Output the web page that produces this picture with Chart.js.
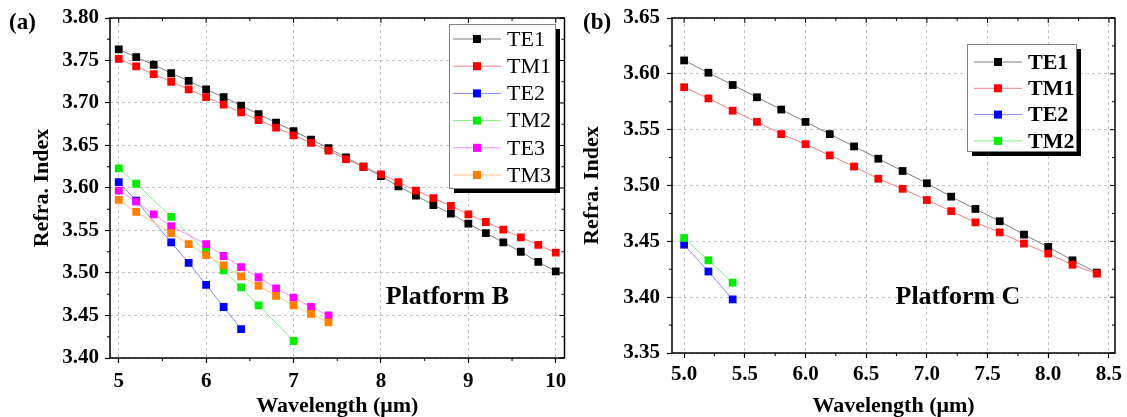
<!DOCTYPE html>
<html>
<head>
<meta charset="utf-8">
<script src="https://cdn.jsdelivr.net/npm/chart.js@4.4.0/dist/chart.umd.min.js"></script>
<style>
  body { margin: 0; background: #fff; }
  .panel { position: absolute; top: 0; height: 417px; }
  #panelB { left: 0; width: 570px; }
  #panelC { left: 570px; width: 557px; }
</style>
</head>
<body>
<div class="panel" id="panelB"><canvas id="chartB" width="570" height="417"></canvas></div>
<div class="panel" id="panelC"><canvas id="chartC" width="557" height="417"></canvas></div>
<script>
const FONT = "'Liberation Serif', 'Times New Roman', serif";

// ---- Platform B ----
const wlB = [5.0, 5.2, 5.4, 5.6, 5.8, 6.0, 6.2, 6.4, 6.6, 6.8, 7.0, 7.2, 7.4,
             7.6, 7.8, 8.0, 8.2, 8.4, 8.6, 8.8, 9.0, 9.2, 9.4, 9.6, 9.8, 10.0];
const te1B = [3.763, 3.754, 3.745, 3.735, 3.726, 3.716, 3.707, 3.697, 3.687, 3.677, 3.667, 3.657, 3.647,
              3.636, 3.625, 3.614, 3.602, 3.591, 3.580, 3.570, 3.558, 3.547, 3.536, 3.525, 3.513, 3.502];
const tm1B = [3.752, 3.743, 3.734, 3.725, 3.716, 3.707, 3.698, 3.689, 3.680, 3.671, 3.662, 3.653, 3.644,
              3.634, 3.625, 3.616, 3.607, 3.597, 3.588, 3.579, 3.569, 3.560, 3.551, 3.542, 3.533, 3.524];
const wlTe2B = [5.0, 5.2, 5.6, 5.8, 6.0, 6.2, 6.4];
const te2B = [3.607, 3.585, 3.536, 3.512, 3.486, 3.460, 3.434];
const wlTm2B = [5.0, 5.2, 5.6, 6.0, 6.2, 6.4, 6.6, 7.0];
const tm2B = [3.623, 3.605, 3.566, 3.525, 3.503, 3.483, 3.462, 3.420];
const wlTe3B = [5.0, 5.2, 5.4, 5.6, 6.0, 6.2, 6.4, 6.6, 6.8, 7.0, 7.2, 7.4];
const te3B = [3.597, 3.584, 3.569, 3.555, 3.534, 3.520, 3.507, 3.495, 3.482, 3.471, 3.460, 3.450];
const wlTm3B = [5.0, 5.2, 5.6, 5.8, 6.0, 6.2, 6.4, 6.6, 6.8, 7.0, 7.2, 7.4];
const tm3B = [3.586, 3.572, 3.547, 3.534, 3.521, 3.509, 3.496, 3.485, 3.473, 3.462, 3.452, 3.442];
const xTicksB = [5, 6, 7, 8, 9, 10];
const yTicksB = [3.40, 3.45, 3.50, 3.55, 3.60, 3.65, 3.70, 3.75, 3.80];

// ---- Platform C ----
const wlC = [5.0, 5.2, 5.4, 5.6, 5.8, 6.0, 6.2, 6.4, 6.6, 6.8, 7.0, 7.2, 7.4, 7.6, 7.8, 8.0, 8.2, 8.4];
const te1C = [3.612, 3.601, 3.590, 3.579, 3.568, 3.557, 3.546, 3.535, 3.524,
              3.513, 3.502, 3.490, 3.479, 3.468, 3.456, 3.445, 3.433, 3.422];
const tm1C = [3.588, 3.578, 3.567, 3.557, 3.546, 3.537, 3.527, 3.517, 3.506,
              3.497, 3.487, 3.477, 3.467, 3.458, 3.448, 3.439, 3.429, 3.421];
const wlLowC = [5.0, 5.2, 5.4];
const te2C = [3.447, 3.423, 3.398];
const tm2C = [3.453, 3.433, 3.413];
const xTicksC = [5.0, 5.5, 6.0, 6.5, 7.0, 7.5, 8.0, 8.5];
const yTicksC = [3.35, 3.40, 3.45, 3.50, 3.55, 3.60, 3.65];

const pts = (xs, ys) => xs.map((x, i) => ({ x: x, y: ys[i] }));

function series(label, xs, ys, line, mark, order) {
  return {
    label: label,
    data: pts(xs, ys),
    showLine: true,
    borderColor: line,
    borderWidth: 1,
    backgroundColor: mark,
    pointBackgroundColor: mark,
    pointBorderWidth: 0,
    pointStyle: 'rect',
    pointRadius: 5.5,
    pointHoverRadius: 5.5,
    order: order
  };
}

// frame + minor/mirrored ticks
const framePlugin = {
  id: 'frame',
  afterDatasetsDraw(chart) {
    const { ctx, chartArea: a, scales: { x, y } } = chart;
    const xs = x.ticks.map(t => t.value);
    const ys = y.ticks.map(t => t.value);
    const mids = v => v.slice(1).map((b, i) => (v[i] + b) / 2);
    ctx.save();
    ctx.strokeStyle = '#000';
    ctx.lineWidth = 1;
    ctx.beginPath();
    xs.forEach(v => {
      const p = x.getPixelForValue(v);
      ctx.moveTo(p, a.top); ctx.lineTo(p, a.top + 5);
    });
    mids(xs).forEach(v => {
      const p = x.getPixelForValue(v);
      ctx.moveTo(p, a.bottom); ctx.lineTo(p, a.bottom + 3);
      ctx.moveTo(p, a.top); ctx.lineTo(p, a.top + 3);
    });
    ys.forEach(v => {
      const p = y.getPixelForValue(v);
      ctx.moveTo(a.right, p); ctx.lineTo(a.right - 5, p);
    });
    mids(ys).forEach(v => {
      const p = y.getPixelForValue(v);
      ctx.moveTo(a.left, p); ctx.lineTo(a.left - 3, p);
      ctx.moveTo(a.right, p); ctx.lineTo(a.right - 3, p);
    });
    ctx.stroke();
    ctx.lineWidth = 1.5;
    ctx.strokeRect(a.left, a.top, a.right - a.left, a.bottom - a.top);
    ctx.restore();
  }
};

// boxed legend with shadow, panel letter and platform note
const extrasPlugin = {
  id: 'extras',
  afterDraw(chart, args, o) {
    const { ctx, scales: { x, y } } = chart;
    ctx.save();
    // panel letter
    ctx.fillStyle = '#000';
    ctx.font = 'bold 23px ' + FONT;
    ctx.textAlign = 'left';
    ctx.textBaseline = 'middle';
    ctx.fillText(o.panel, o.panelX, 23);
    // note
    ctx.font = 'bold 26px ' + FONT;
    ctx.textAlign = 'center';
    ctx.fillText(o.note, x.getPixelForValue(o.noteX), y.getPixelForValue(o.noteY));
    // legend
    const L = o.legend;
    ctx.fillStyle = '#000';
    ctx.fillRect(L.left + 5, L.top + 5, L.width, L.height);
    ctx.fillStyle = '#fff';
    ctx.fillRect(L.left, L.top, L.width, L.height);
    ctx.strokeStyle = '#808080';
    ctx.lineWidth = 1;
    ctx.strokeRect(L.left + 0.5, L.top + 0.5, L.width, L.height);
    ctx.font = (L.bold ? 'bold ' : '') + '22px ' + FONT;
    ctx.textAlign = 'left';
    chart.data.datasets.forEach((ds, i) => {
      const ry = L.top + L.first + i * L.gap;
      ctx.strokeStyle = ds.borderColor;
      ctx.lineWidth = 1;
      ctx.beginPath();
      ctx.moveTo(L.lineFrom, ry); ctx.lineTo(L.lineTo, ry);
      ctx.stroke();
      const mx = (L.lineFrom + L.lineTo) / 2;
      ctx.fillStyle = ds.pointBackgroundColor;
      ctx.fillRect(mx - 4, ry - 4, 8, 8);
      ctx.fillStyle = '#000';
      ctx.fillText(ds.label, L.textX, ry + 1);
    });
    ctx.restore();
  }
};

function axisOpts(min, max, tickVals, fmt, title, size, pad, tickPad, isX) {
  return {
    type: 'linear',
    min: min,
    max: max,
    afterBuildTicks: s => { s.ticks = tickVals.map(v => ({ value: v })); },
    afterFit: s => {
      if (isX) { s.height = size; s.paddingLeft = 0; s.paddingRight = 0; }
      else { s.width = size; s.paddingTop = 0; s.paddingBottom = 0; }
    },
    ticks: {
      color: '#000',
      font: { family: FONT, size: 21, weight: 'bold' },
      padding: tickPad,
      autoSkip: false,
      maxRotation: 0,
      callback: fmt
    },
    grid: {
      color: 'rgba(170,170,170,0.7)',
      lineWidth: 1,
      tickLength: 5,
      tickColor: '#000',
      tickWidth: 1.2
    },
    border: { display: false, dash: [3, 3] },
    title: {
      display: true,
      text: title,
      color: '#000',
      font: { family: FONT, size: 22, weight: 'bold', lineHeight: 1 },
      padding: isX ? { top: 0, bottom: 0 } : { top: pad, bottom: 0 }
    }
  };
}

new Chart(document.getElementById('chartB'), {
  type: 'scatter',
  data: {
    datasets: [
      series('TE1', wlB, te1B, '#808080', '#000000', 5),
      series('TM1', wlB, tm1B, '#f08080', '#ff0000', 4),
      series('TE2', wlTe2B, te2B, '#8888ff', '#0000ff', 3),
      series('TM2', wlTm2B, tm2B, '#80ee80', '#00ee00', 2),
      series('TE3', wlTe3B, te3B, '#ff88ff', '#ff00ff', 1),
      series('TM3', wlTm3B, tm3B, '#ffc080', '#ff7f00', 0)
    ]
  },
  options: {
    responsive: false,
    animation: false,
    devicePixelRatio: 1,
    layout: { padding: { left: 0, top: 18, right: 5, bottom: 0 } },
    scales: {
      x: axisOpts(4.9, 10.1, xTicksB, v => String(v), 'Wavelength (\u03bcm)', 59, 0, 6, true),
      y: axisOpts(3.40, 3.80, yTicksB, v => v.toFixed(2), 'Refra. Index', 110, 31, 6, false)
    },
    plugins: {
      legend: { display: false },
      tooltip: { enabled: false },
      extras: {
        panel: '(a)', panelX: 9,
        note: 'Platform B', noteX: 8.76, noteY: 3.472,
        legend: { left: 449, top: 24, width: 106, height: 164, first: 15, gap: 27.2,
                  lineFrom: 453, lineTo: 501, textX: 507, bold: false }
      }
    }
  },
  plugins: [framePlugin, extrasPlugin]
});

new Chart(document.getElementById('chartC'), {
  type: 'scatter',
  data: {
    datasets: [
      series('TE1', wlC, te1C, '#808080', '#000000', 3),
      series('TM1', wlC, tm1C, '#f08080', '#ff0000', 2),
      series('TE2', wlLowC, te2C, '#8888ff', '#0000ff', 1),
      series('TM2', wlLowC, tm2C, '#80ee80', '#00ee00', 0)
    ]
  },
  options: {
    responsive: false,
    animation: false,
    devicePixelRatio: 1,
    layout: { padding: { left: 0, top: 18, right: 12, bottom: 0 } },
    scales: {
      x: axisOpts(4.9, 8.55, xTicksC, v => v.toFixed(1), 'Wavelength (\u03bcm)', 64, 0, 4, true),
      y: axisOpts(3.35, 3.65, yTicksC, v => v.toFixed(2), 'Refra. Index', 102, 11, 7, false)
    },
    plugins: {
      legend: { display: false },
      tooltip: { enabled: false },
      extras: {
        panel: '(b)', panelX: 13,
        note: 'Platform C', noteX: 7.256, noteY: 3.40,
        legend: { left: 397, top: 44, width: 109, height: 107, first: 18, gap: 26.3,
                  lineFrom: 404, lineTo: 452, textX: 458, bold: true }
      }
    }
  },
  plugins: [framePlugin, extrasPlugin]
});
</script>
</body>
</html>
